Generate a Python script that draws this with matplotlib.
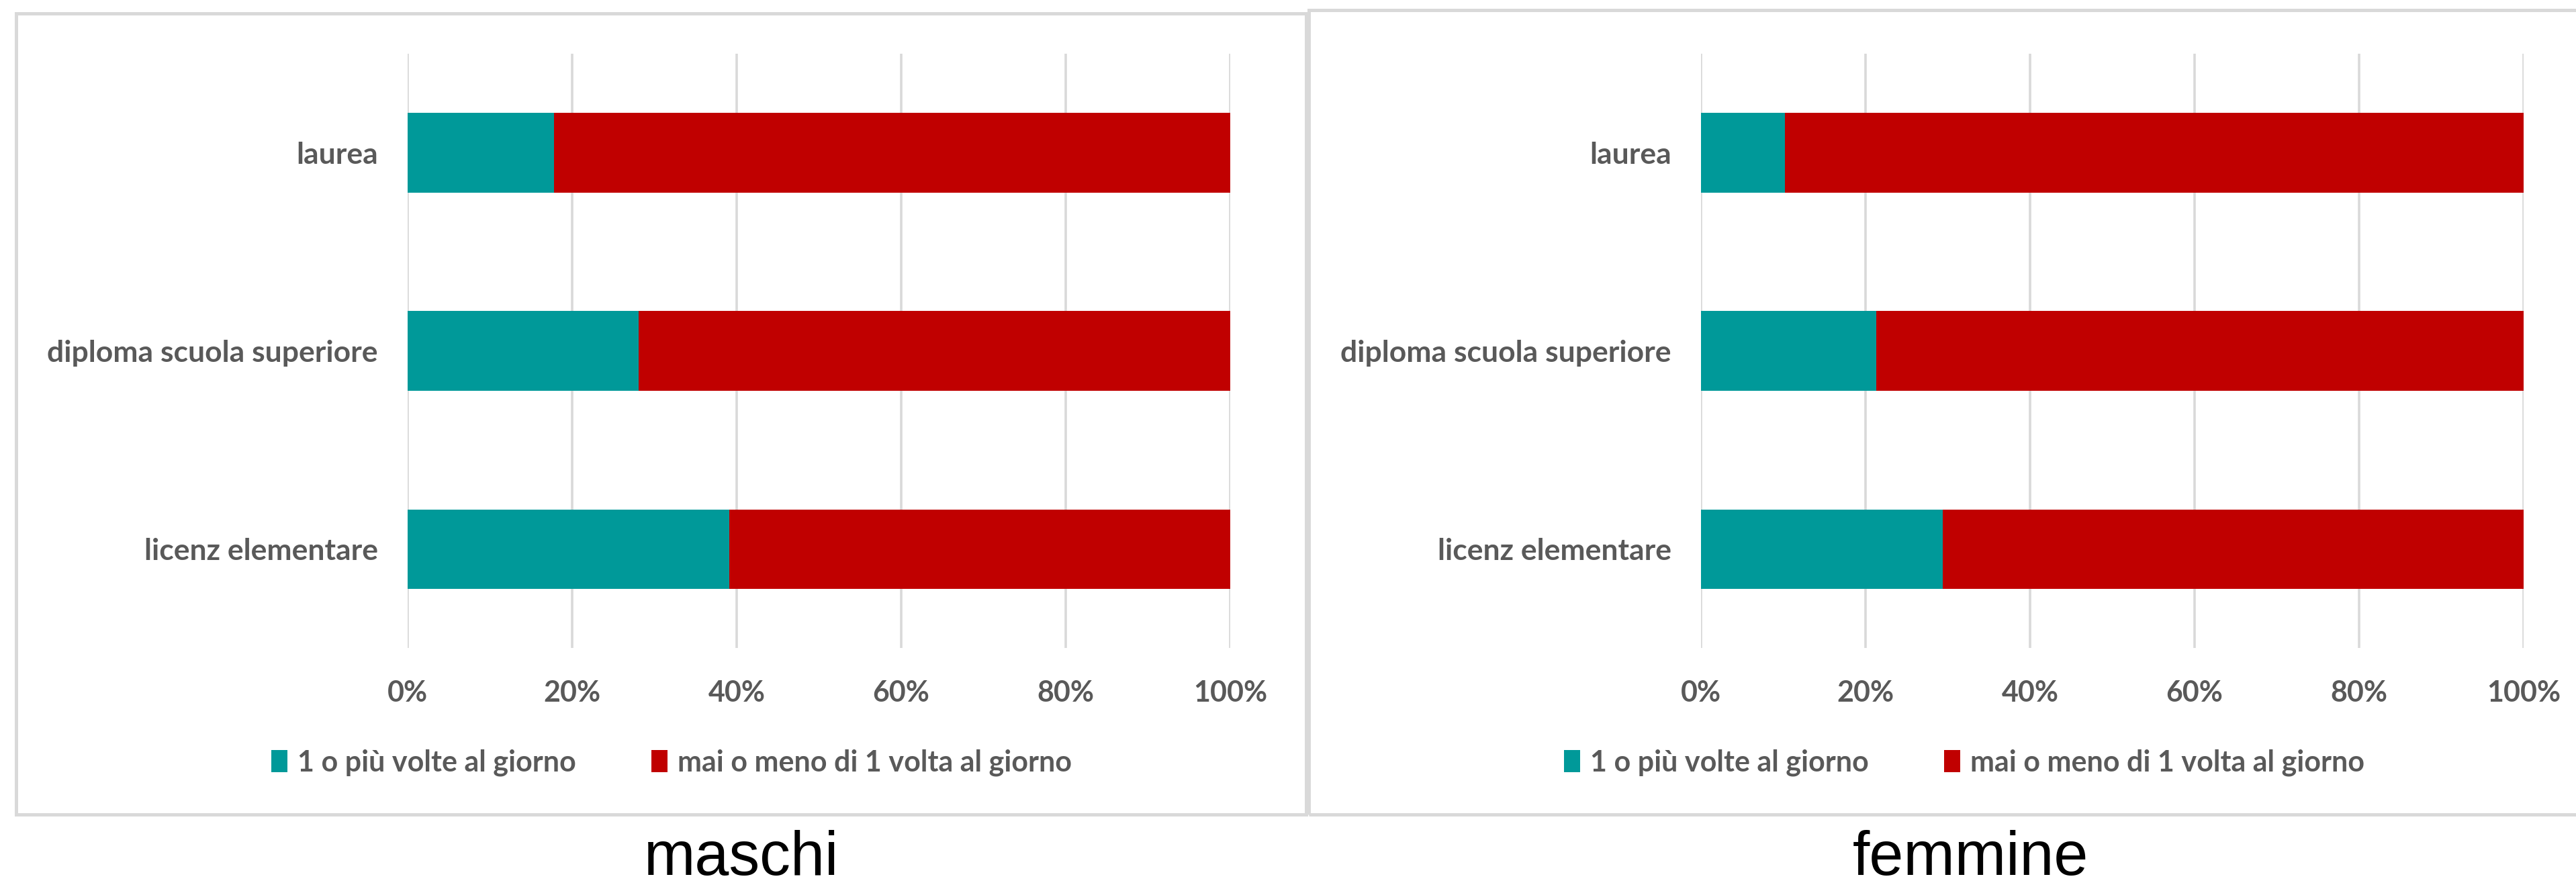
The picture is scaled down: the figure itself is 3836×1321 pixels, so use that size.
'''Stacked 100% bars: daily frequency by education level, men vs women.'''

import matplotlib.pyplot as plt
import matplotlib.patches as patches
from matplotlib.ticker import PercentFormatter

categories = ['licenz elementare', 'diploma scuola superiore', 'laurea']
series_names = ['1 o più volte al giorno', 'mai o meno di 1 volta al giorno']

maschi_daily = [39.1, 28.1, 17.8]
maschi_rare = [60.9, 71.9, 82.2]
femmine_daily = [29.4, 21.3, 10.2]
femmine_rare = [70.6, 78.7, 89.8]

panel_titles = ['maschi', 'femmine']
x_ticks = [0, 20, 40, 60, 80, 100]

TEAL = '#009999'
RED = '#C00000'
GRID = '#d9d9d9'
TEXT = '#595959'

W, H = 3836, 1321
fig = plt.figure(figsize=(W / 100, H / 100), dpi=100)
fig.patch.set_facecolor('white')


def fx(px):
    return px / W


def fy(py):
    return 1 - py / H


# outer frames of the two chart boxes
for (x0, y0, x1, y1) in [(23.5, 19.5, 1945, 1213), (1949, 14.5, 3860, 1213)]:
    fig.patches.append(patches.Rectangle((fx(x0), fy(y1)), fx(x1) - fx(x0), fy(y0) - fy(y1),
                                         transform=fig.transFigure, fill=False,
                                         edgecolor=GRID, linewidth=3.6, zorder=0))

panels = [
    (maschi_daily, maschi_rare, 607, 1832, 1104, 1000),
    (femmine_daily, femmine_rare, 2533, 3758, 2934, 2925),
]

for (daily, rare, left, right, title_x, legend_x), title in zip(panels, panel_titles):
    ax = fig.add_axes([fx(left), fy(965), fx(right) - fx(left), fy(80) - fy(965)])
    ypos = range(len(categories))
    b1 = ax.barh(ypos, daily, height=0.4, color=TEAL, label=series_names[0], zorder=3)
    b2 = ax.barh(ypos, rare, left=daily, height=0.4, color=RED, label=series_names[1], zorder=3)

    ax.set_xlim(0, 100)
    ax.set_ylim(-0.5, len(categories) - 0.5)
    ax.set_xticks(x_ticks)
    ax.xaxis.set_major_formatter(PercentFormatter(decimals=0))
    ax.set_yticks(list(ypos))
    ax.set_yticklabels(categories)
    ax.grid(axis='x', color=GRID, linewidth=2.6, zorder=0)
    ax.set_axisbelow(True)
    for s in ax.spines.values():
        s.set_visible(False)
    ax.tick_params(axis='both', length=0)
    ax.tick_params(axis='y', pad=32)
    ax.tick_params(axis='x', pad=34)
    for lab in ax.get_xticklabels():
        lab.set_fontfamily(['Lato', 'DejaVu Sans'])
        lab.set_fontweight('bold')
        lab.set_fontsize(31)
        lab.set_color(TEXT)
    for lab in ax.get_yticklabels():
        lab.set_fontfamily(['Lato', 'DejaVu Sans'])
        lab.set_fontweight('bold')
        lab.set_fontsize(32)
        lab.set_color(TEXT)

    fig.legend(handles=[b1, b2], loc='center', bbox_to_anchor=(fx(legend_x), fy(1136)),
               ncol=2, frameon=False, handlelength=0.55, handleheight=0.8,
               handletextpad=0.35, columnspacing=2.6,
               prop=dict(family=['Lato', 'DejaVu Sans'], weight='bold', size=31),
               labelcolor=TEXT)

    fig.text(fx(title_x), fy(1303), title, ha='center', va='baseline',
             family=['Liberation Sans', 'DejaVu Sans'], fontsize=66, color='black')

fig.savefig('out.png', dpi=100, facecolor='white')
